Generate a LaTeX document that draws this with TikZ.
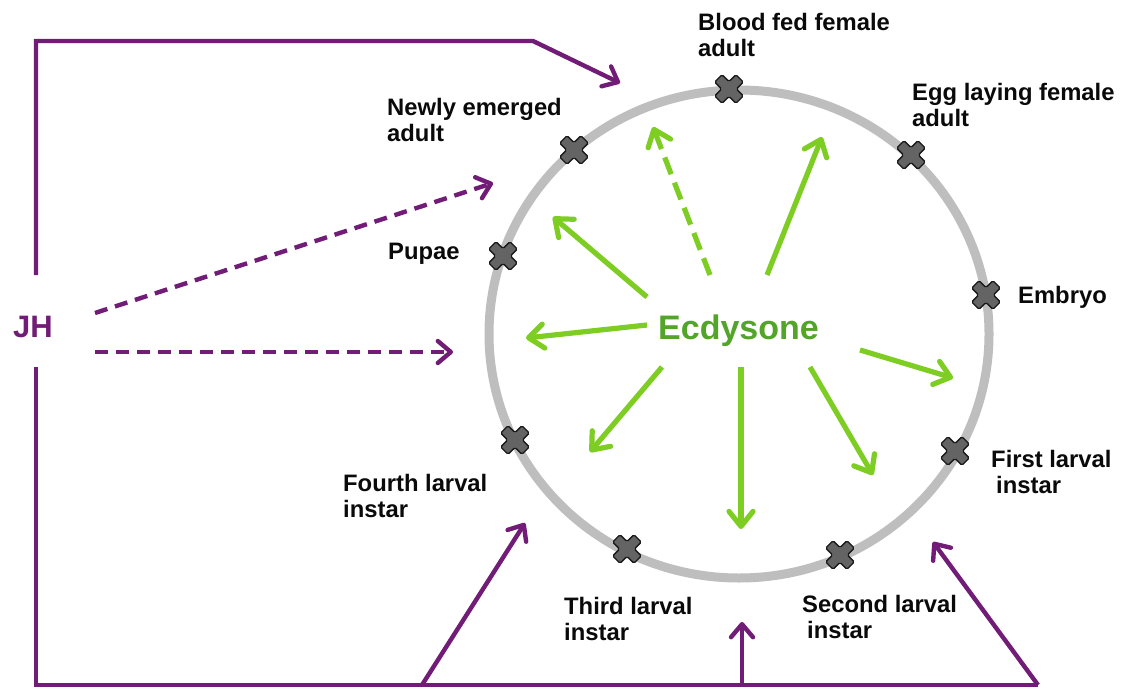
\documentclass[tikz,border=0pt]{standalone}
\usepackage{fontspec}
\setmainfont{Liberation Sans}
\usetikzlibrary{arrows.meta}
\definecolor{jhpurple}{RGB}{113,28,118}
\definecolor{ecgreen}{RGB}{125,205,35}
\definecolor{ectext}{RGB}{82,165,40}
\definecolor{ring}{RGB}{190,190,190}
\definecolor{xfill}{RGB}{100,100,100}
\definecolor{lbltext}{RGB}{10,10,10}
\tikzset{
  lbl/.style={anchor=north west, inner sep=0pt, align=left,
    font=\fontsize{23.8}{26}\selectfont\bfseries, text=lbltext},
  garrow/.style={draw=ecgreen, line width=5.2pt,
    -{Straight Barb[round,length=15pt,width=24pt]}},
  gdash/.style={garrow, dash pattern=on 18pt off 9pt},
  parrow/.style={draw=jhpurple, line width=4.4pt,
    -{Straight Barb[round,length=13pt,width=22pt]}},
  pline/.style={draw=jhpurple, line width=4.4pt, line join=miter},
  pdash/.style={parrow, dash pattern=on 13pt off 8pt},
  xmark/.pic={\draw[fill=xfill, draw=black!90, line width=1.3pt,
      rounded corners=1.5pt, rotate=45]
      (-5.2,-15) -- (5.2,-15) -- (5.2,-5.2) -- (15,-5.2) -- (15,5.2) -- (5.2,5.2)
      -- (5.2,15) -- (-5.2,15) -- (-5.2,5.2) -- (-15,5.2) -- (-15,-5.2)
      -- (-5.2,-5.2) -- cycle;}
}
\begin{document}
\begin{tikzpicture}[x=1pt,y=-1pt]
\useasboundingbox (0,0) rectangle (1124,690);
\fill[white] (0,0) rectangle (1124,690);

% ring
\draw[ring, line width=9pt] (739,334) ellipse [x radius=250, y radius=244];

% stage markers
\pic at (729,89) {xmark};
\pic at (911,155) {xmark};
\pic at (986,295) {xmark};
\pic at (955,451) {xmark};
\pic at (840,555) {xmark};
\pic at (627,549) {xmark};
\pic at (515,440) {xmark};
\pic at (503,256) {xmark};
\pic at (574,150) {xmark};

% labels
\node[lbl] (blood) at (698,13) {Blood fed female\\adult};
\node[lbl] (egg) at (912,83) {Egg laying female\\adult};
\node[lbl] (newly) at (387,98) {Newly emerged\\adult};
\node[lbl] (pupae) at (388,243) {Pupae};
\node[lbl] (embryo) at (1018,286) {Embryo};
\node[lbl] (first) at (991,450) {First larval\\\hspace*{5pt}instar};
\node[lbl] (fourth) at (343,474) {Fourth larval\\instar};
\node[lbl] (third) at (564,597) {Third larval\\instar};
\node[lbl] (second) at (802,595) {Second larval\\\hspace*{5pt}instar};

% central texts
\node[anchor=base west, inner sep=0pt, text=ectext,
  font=\fontsize{34}{36}\selectfont\bfseries] (ecd) at (658,339) {Ecdysone};
\node[anchor=base, inner sep=0pt, text=jhpurple,
  font=\fontsize{31}{34}\selectfont\bfseries] (jh) at (33,337) {JH};

% green arrow endpoints
\coordinate (g1s) at (710,275); \coordinate (g1e) at (653,127);
\coordinate (g2s) at (767,275); \coordinate (g2e) at (822,137);
\coordinate (g3s) at (647,297); \coordinate (g3e) at (553,217);
\coordinate (g4s) at (647,325); \coordinate (g4e) at (526,338);
\coordinate (g5s) at (860,350); \coordinate (g5e) at (953,378);
\coordinate (g6s) at (662,367); \coordinate (g6e) at (590,452);
\coordinate (g7s) at (741,367); \coordinate (g7e) at (741,529);
\coordinate (g8s) at (810,367); \coordinate (g8e) at (873,475);

\draw[gdash] (g1s) -- (g1e);
\draw[garrow] (g2s) -- (g2e);
\draw[garrow] (g3s) -- (g3e);
\draw[garrow] (g4s) -- (g4e);
\draw[garrow] (g5s) -- (g5e);
\draw[garrow] (g6s) -- (g6e);
\draw[garrow] (g7s) -- (g7e);
\draw[garrow] (g8s) -- (g8e);

% JH connectors
\coordinate (jtop) at (36,275);
\coordinate (jc1) at (36,41);
\coordinate (jc2) at (533,41);
\coordinate (jt1) at (620,83);
\coordinate (jbot) at (36,367);
\coordinate (jc3) at (36,685);
\coordinate (b1) at (422,685);
\coordinate (b2) at (742,685);
\coordinate (b3) at (1038,685);
\coordinate (t1) at (525,523);
\coordinate (t2) at (742,622);
\coordinate (t3) at (933,542);
\coordinate (d1s) at (95,313); \coordinate (d1e) at (493,183);
\coordinate (d2s) at (95,352); \coordinate (d2e) at (453,352);

\draw[parrow, line join=miter] (jtop) -- (jc1) -- (jc2) -- (jt1);
\draw[pline] (jbot) -- (jc3) -- (b3);
\draw[parrow] (b1) -- (t1);
\draw[parrow] (b2) -- (t2);
\draw[parrow] (b3) -- (t3);
\draw[pdash] (d1s) -- (d1e);
\draw[pdash] (d2s) -- (d2e);
\end{tikzpicture}
\end{document}
